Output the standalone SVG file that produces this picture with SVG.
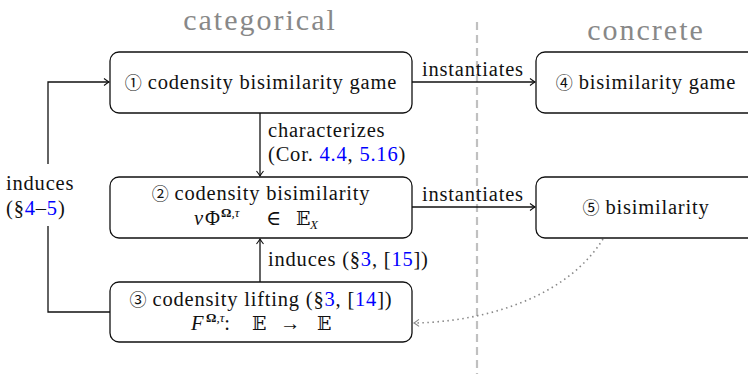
<svg xmlns="http://www.w3.org/2000/svg" width="748" height="374" viewBox="0 0 748 374" font-family="'Liberation Serif', 'Times New Roman', Times, 'DejaVu Serif', serif">
<defs>
<style>
text{font-size:20.5px;letter-spacing:0.8px;fill:#111}
.hd{font-size:30px;letter-spacing:2px;fill:#888}
.c{text-anchor:middle}
.ref{fill:#0000ff}
.cd{font-family:'Noto Sans CJK SC','DejaVu Sans',sans-serif;font-size:17px;letter-spacing:0}
.m{letter-spacing:0}
.sup{font-size:13px;letter-spacing:0}
.bb{font-family:'DejaVu Serif','DejaVu Sans',serif;font-size:19px}
.box{fill:#fff;stroke:#111;stroke-width:1.3}
.edge{fill:none;stroke:#111;stroke-width:1.3}
.dot{fill:none;stroke:#888;stroke-width:1.6;stroke-dasharray:1.5 3.5}
</style>
<marker id="arr" viewBox="-6 -5 8 10" markerWidth="8" markerHeight="10" refX="0" refY="0" orient="auto" markerUnits="userSpaceOnUse">
<path d="M-5,-3.5 Q-1.5,-0.8 0,0 Q-1.5,0.8 -5,3.5" fill="none" stroke="#111" stroke-width="1.1"/>
</marker>
<marker id="arrg" viewBox="-6 -5 8 10" markerWidth="8" markerHeight="10" refX="0" refY="0" orient="auto" markerUnits="userSpaceOnUse">
<path d="M-5,-3.5 Q-1.5,-0.8 0,0 Q-1.5,0.8 -5,3.5" fill="none" stroke="#888" stroke-width="1.1"/>
</marker>
</defs>
<rect width="748" height="374" fill="#fff"/>
<line x1="477" y1="22" x2="477" y2="374" stroke="#c0c0c0" stroke-width="2.2" stroke-dasharray="8 5"/>
<text class="hd c" x="260" y="30">categorical</text>
<text class="hd c" x="646" y="40">concrete</text>

<g id="connectors">
<path class="edge" d="M412,82 H535" marker-end="url(#arr)"/>
<path class="edge" d="M412,207 H535" marker-end="url(#arr)"/>
<path class="edge" d="M260,113 V176" marker-end="url(#arr)"/>
<path class="edge" d="M260,282 V239" marker-end="url(#arr)"/>
<path class="edge" d="M110,312 H48 V226"/>
<path class="edge" d="M48,164 V82 H109" marker-end="url(#arr)"/>
<path class="dot" d="M603,239 C565,300 480,322 414,323" marker-end="url(#arrg)"/>
<text x="422" y="76">instantiates</text>
<text x="422" y="201">instantiates</text>
<text x="268" y="137">characterizes</text>
<text x="268" y="161">(Cor. <tspan class="ref">4.4</tspan>, <tspan class="ref">5.16</tspan>)</text>
<text x="268" y="266">induces (§<tspan class="ref">3</tspan>, [<tspan class="ref">15</tspan>])</text>
<text x="6" y="190">induces</text>
<text x="6" y="215">(§<tspan class="ref">4</tspan>–<tspan class="ref">5</tspan>)</text>
</g>

<g id="n1">
<rect class="box" x="110" y="52" width="302" height="61" rx="9"/>
<text class="c" x="261" y="89"><tspan class="cd">①</tspan> codensity bisimilarity game</text>
</g>
<g id="n2">
<rect class="box" x="110" y="177" width="302" height="61" rx="9"/>
<text class="c" x="261" y="200"><tspan class="cd">②</tspan> codensity bisimilarity</text>
<text class="m" y="225"><tspan x="194" font-style="italic">ν</tspan><tspan x="205">Φ</tspan><tspan class="sup" x="221" y="217" font-weight="bold">Ω</tspan><tspan class="sup" font-style="italic">,τ</tspan><tspan x="266" y="225">∈</tspan><tspan class="bb" x="296">𝔼</tspan><tspan class="sup" x="310" y="229" font-style="italic">X</tspan></text>
</g>
<g id="n3">
<rect class="box" x="110" y="282" width="302" height="60" rx="9"/>
<text class="c" x="261" y="306"><tspan class="cd">③</tspan> codensity lifting (§<tspan class="ref">3</tspan>, [<tspan class="ref">14</tspan>])</text>
<text class="m" y="330"><tspan x="191" font-style="italic">F</tspan><tspan class="sup" x="206" y="322" font-weight="bold">Ω</tspan><tspan class="sup" font-style="italic">,τ</tspan><tspan y="330">:</tspan><tspan class="bb" x="252">𝔼</tspan><tspan x="280">→</tspan><tspan class="bb" x="317">𝔼</tspan></text>
</g>
<g id="n4">
<rect class="box" x="536" y="52" width="302" height="61" rx="9"/>
<text class="c" x="646" y="89"><tspan class="cd">④</tspan> bisimilarity game</text>
</g>
<g id="n5">
<rect class="box" x="536" y="177" width="302" height="61" rx="9"/>
<text class="c" x="646" y="214"><tspan class="cd">⑤</tspan> bisimilarity</text>
</g>
</svg>
